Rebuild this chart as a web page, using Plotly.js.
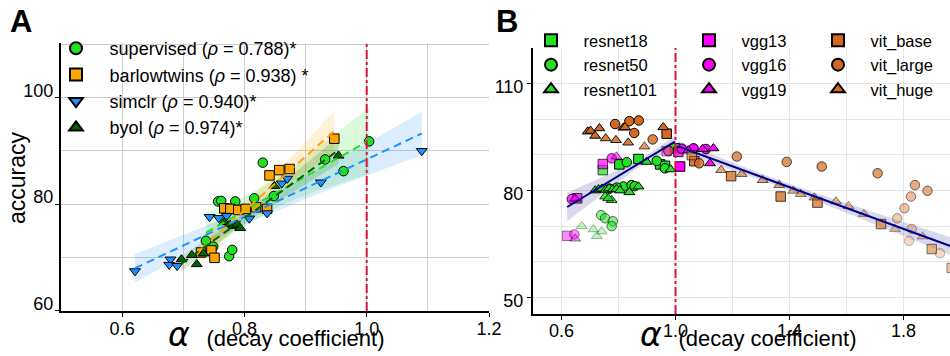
<!DOCTYPE html>
<html><head><meta charset="utf-8">
<script src="https://cdn.plot.ly/plotly-3.0.1.min.js"></script>
<style>html,body{margin:0;padding:0;background:#fff}#chart{width:950px;height:356px}</style>
</head><body><div id="chart"></div>
<script>
// ===================== Panel A data =====================
const aNames = ['supervised', 'barlowtwins', 'simclr', 'byol'];
const aRho = ['0.788', '0.938', '0.940', '0.974'];
const aStar = [')*', ') *', ')*', ')*'];

const supervisedAlpha = [0.737, 0.749, 0.775, 0.780, 0.757, 0.762, 0.785, 0.816, 0.848, 0.830, 0.932, 0.962, 1.004];
const supervisedAcc   = [73.1, 72.0, 70.2, 71.4, 80.5, 80.6, 80.5, 81.1, 81.5, 87.8, 88.4, 86.2, 91.8];

const barlowAlpha = [0.729, 0.746, 0.751, 0.767, 0.777, 0.790, 0.802, 0.819, 0.837, 0.841, 0.857, 0.874, 0.947];
const barlowAcc   = [70.9, 71.3, 69.9, 79.2, 79.1, 78.9, 79.1, 79.4, 79.1, 85.4, 86.4, 86.6, 92.3];

const simclrAlpha = [0.621, 0.679, 0.677, 0.690, 0.743, 0.758, 0.771, 0.808, 0.837, 0.861, 0.870, 0.925, 1.090];
const simclrAcc   = [67.4, 69.6, 68.6, 68.4, 77.6, 77.4, 77.8, 77.3, 78.3, 83.9, 84.8, 84.1, 90.0];

const byolAlpha = [0.697, 0.714, 0.722, 0.733, 0.767, 0.776, 0.782, 0.788, 0.793, 0.849, 0.954];
const byolAcc   = [69.6, 70.4, 68.7, 70.7, 76.6, 76.2, 75.9, 76.1, 75.5, 83.4, 89.1];

const criticalAlpha = [1.0];

// ===================== Panel B data =====================
const bNames = ['resnet18', 'resnet50', 'resnet101', 'vgg13', 'vgg16', 'vgg19', 'vit_base', 'vit_large', 'vit_huge'];

const resnet18Alpha = [0.803, 0.745, 0.870, 0.946, 0.963, 0.998];
const resnet18Acc   = [87.3, 85.7, 88.8, 87.3, 86.9, 91.8];
const resnet18Fade  = [1, 0.7, 1, 1, 1, 1];

const resnet50Alpha = [0.829, 0.934, 0.963, 0.817, 0.846, 0.794, 0.857, 0.768, 0.739, 0.753, 0.780, 0.776];
const resnet50Acc   = [87.9, 88.3, 86.2, 81.1, 81.5, 80.8, 81.2, 80.5, 73.1, 72.2, 71.4, 70.0];
const resnet50Fade  = [1, 1, 1, 1, 1, 1, 1, 1, 0.55, 0.55, 0.55, 0.55];

const resnet101Alpha = [0.899, 0.983, 0.870, 0.718, 0.730, 0.742, 0.755, 0.767, 0.780, 0.793, 0.805, 0.838, 0.753, 0.776, 0.764, 0.671, 0.712, 0.741, 0.724];
const resnet101Acc   = [88.0, 85.9, 81.1, 80.0, 80.3, 80.5, 80.2, 80.6, 80.3, 80.4, 80.0, 79.5, 78.3, 77.3, 77.8, 70.0, 69.1, 68.5, 67.2];
const resnet101Fade  = [1, 1, 1, 1, 1, 1, 1, 1, 1, 1, 1, 1, 0.8, 0.8, 0.8, 0.3, 0.3, 0.3, 0.3];

const vgg13Alpha = [1.016, 0.745, 0.655, 0.620, 0.969, 1.010];
const vgg13Acc   = [86.7, 87.4, 77.8, 67.3, 91.0, 90.8];
const vgg13Fade  = [1, 0.7, 0.75, 0.45, 0.45, 0.8];

const vgg16Alpha = [1.063, 1.022, 1.107, 0.776, 0.636, 0.645, 0.975];
const vgg16Acc   = [91.8, 91.7, 91.6, 89.0, 77.6, 67.7, 91.0];
const vgg16Fade  = [1, 1, 1, 0.7, 0.75, 0.45, 0.45];

const vgg19Alpha = [1.095, 1.133, 1.121, 1.045, 0.793, 0.648, 0.648];
const vgg19Acc   = [91.6, 91.8, 87.6, 91.2, 89.5, 77.7, 66.5];
const vgg19Fade  = [1, 1, 1, 1, 0.55, 0.75, 0.45];

const vitBaseAlpha = [0.969, 1.066, 1.057, 1.195, 1.369, 1.498, 1.721, 1.899, 1.969];
const vitBaseAcc   = [95.9, 88.2, 89.9, 84.0, 78.3, 76.6, 70.6, 63.6, 58.3];
const vitBaseFade  = [1, 0.85, 0.6, 0.75, 0.75, 0.7, 0.6, 0.5, 0.4];

const vitLargeAlpha = [0.788, 0.838, 0.871, 0.855, 0.920, 0.975, 1.083, 1.215, 1.390, 1.513, 1.709, 1.840, 1.884, 1.826, 1.803, 1.778, 1.829, 1.819, 1.928];
const vitLargeAcc   = [98.6, 99.4, 99.6, 96.1, 94.3, 91.2, 87.6, 89.5, 88.0, 86.7, 84.8, 81.5, 79.9, 78.3, 75.0, 72.2, 69.2, 65.9, 62.4];
const vitLargeFade  = [1, 1, 1, 1, 0.8, 0.5, 0.8, 0.7, 0.7, 0.7, 0.65, 0.55, 0.55, 0.45, 0.4, 0.35, 0.3, 0.25, 0.25];

const vitHugeAlpha = [0.692, 0.702, 0.733, 0.718, 0.755, 0.791, 0.817, 0.823, 0.834, 0.891, 0.957, 1.160, 1.232, 1.306, 1.364, 1.413, 1.439, 1.487, 1.563, 1.607, 1.661, 1.770, 1.867];
const vitHugeAcc   = [96.5, 96.7, 97.4, 95.3, 94.6, 94.1, 97.6, 97.7, 93.4, 92.3, 97.7, 85.7, 84.6, 82.9, 81.5, 79.9, 79.0, 78.0, 76.9, 75.6, 73.4, 69.2, 67.1];
const vitHugeFade  = [1, 1, 1, 1, 0.85, 0.85, 1, 1, 0.85, 0.65, 1, 0.6, 0.6, 0.6, 0.55, 0.5, 0.5, 0.5, 0.45, 0.45, 0.4, 0.35, 0.35];

// piecewise fit: [slope, intercept, band min half-width, band growth, band centre]
const fitBelowOne = [48.5, 45.3, 1.0, 13.8, 0.90];
const fitAboveOne = [-29.2, 121.8, 0.9, 3.8, 1.35];

// ===================== styling =====================
const FONT = 'Liberation Sans, Arial, Helvetica, sans-serif';
const W = 950, H = 356;
const px = v => v / W, py = v => 1 - v / H;

function rgba(hex, a) {
  const n = parseInt(hex.slice(1), 16);
  return `rgba(${(n >> 16) & 255},${(n >> 8) & 255},${n & 255},${a})`;
}
function linspace(a, b, n) { const r = []; for (let i = 0; i < n; i++) r.push(a + (b - a) * i / (n - 1)); return r; }

function ols(xs, ys) {
  const n = xs.length;
  const xm = xs.reduce((s, v) => s + v, 0) / n, ym = ys.reduce((s, v) => s + v, 0) / n;
  let sxx = 0, sxy = 0;
  for (let i = 0; i < n; i++) { sxx += (xs[i] - xm) ** 2; sxy += (xs[i] - xm) * (ys[i] - ym); }
  const b = sxy / sxx, a = ym - b * xm;
  let sse = 0; for (let i = 0; i < n; i++) sse += (ys[i] - a - b * xs[i]) ** 2;
  const s = Math.sqrt(sse / (n - 2));
  return { a, b, xm, sxx, s, n };
}

const traces = [];
const aSeries = [
  { x: supervisedAlpha, y: supervisedAcc, color: '#22e022', symbol: 'circle' },
  { x: barlowAlpha, y: barlowAcc, color: '#ffa500', symbol: 'square' },
  { x: simclrAlpha, y: simclrAcc, color: '#1e90ff', symbol: 'triangle-down' },
  { x: byolAlpha, y: byolAcc, color: '#006400', symbol: 'triangle-up' },
];
const aFits = aSeries.map(s => {
  const f = ols(s.x, s.y);
  const xs = linspace(Math.min(...s.x), Math.max(...s.x), 60);
  const t = 2.2;
  const yh = xs.map(x => f.a + f.b * x);
  const half = xs.map(x => t * f.s * Math.sqrt(1 / f.n + (x - f.xm) ** 2 / f.sxx));
  return { xs, yh, up: yh.map((v, i) => v + half[i]), lo: yh.map((v, i) => v - half[i]) };
});
aSeries.forEach((s, i) => {
  const f = aFits[i];
  traces.push({ x: f.xs.concat(f.xs.slice().reverse()), y: f.up.concat(f.lo.slice().reverse()),
    type: 'scatter', mode: 'lines', fill: 'toself', fillcolor: rgba(s.color, 0.16),
    line: { width: 0 }, hoverinfo: 'skip', showlegend: false, xaxis: 'x', yaxis: 'y' });
});
aSeries.forEach((s, i) => {
  traces.push({ x: s.x, y: s.y, type: 'scatter', mode: 'markers',
    name: '\u00a0\u00a0\u2009' + aNames[i] + ' (<i>ρ</i> = ' + aRho[i] + aStar[i],
    marker: { color: s.color, symbol: s.symbol, size: 9.5, line: { color: '#000', width: 1 } },
    xaxis: 'x', yaxis: 'y', legend: 'legend' });
});
aSeries.forEach((s, i) => {
  const f = aFits[i];
  traces.push({ x: f.xs, y: f.yh, type: 'scatter', mode: 'lines', line: { color: s.color, width: 2, dash: '8px,5px' },
    hoverinfo: 'skip', showlegend: false, xaxis: 'x', yaxis: 'y' });
});

// ===== Panel B =====
const GREEN = '#22e022', MAG = '#ff00ff', VIT = '#d2691e';
const bSeries = [
  { x: resnet18Alpha, y: resnet18Acc, f: resnet18Fade, c: GREEN, s: 'square', lg: 'legend2' },
  { x: resnet50Alpha, y: resnet50Acc, f: resnet50Fade, c: GREEN, s: 'circle', lg: 'legend2' },
  { x: resnet101Alpha, y: resnet101Acc, f: resnet101Fade, c: GREEN, s: 'triangle-up', lg: 'legend2' },
  { x: vgg13Alpha, y: vgg13Acc, f: vgg13Fade, c: MAG, s: 'square', lg: 'legend3' },
  { x: vgg16Alpha, y: vgg16Acc, f: vgg16Fade, c: MAG, s: 'circle', lg: 'legend3' },
  { x: vgg19Alpha, y: vgg19Acc, f: vgg19Fade, c: MAG, s: 'triangle-up', lg: 'legend3' },
  { x: vitBaseAlpha, y: vitBaseAcc, f: vitBaseFade, c: VIT, s: 'square', lg: 'legend4' },
  { x: vitLargeAlpha, y: vitLargeAcc, f: vitLargeFade, c: VIT, s: 'circle', lg: 'legend4' },
  { x: vitHugeAlpha, y: vitHugeAcc, f: vitHugeFade, c: VIT, s: 'triangle-up', lg: 'legend4' },
];
const allB = bSeries.flatMap(s => s.x);
const leftX = allB.filter(v => v < criticalAlpha[0]);
const rightX = allB.filter(v => v > criticalAlpha[0]);
const segs = [
  { p: fitBelowOne, xs: linspace(Math.min(...leftX), Math.max(...leftX), 60) },
  { p: fitAboveOne, xs: linspace(Math.min(...rightX), Math.max(...rightX), 60) },
];
segs.forEach(sg => {
  const [m, b, h0, k, xc] = sg.p;
  sg.yh = sg.xs.map(x => b + m * x);
  const half = sg.xs.map(x => Math.sqrt(h0 * h0 + (k * (x - xc)) ** 2));
  sg.up = sg.yh.map((v, i) => v + half[i]);
  sg.lo = sg.yh.map((v, i) => v - half[i]);
  traces.push({ x: sg.xs.concat(sg.xs.slice().reverse()), y: sg.up.concat(sg.lo.slice().reverse()),
    type: 'scatter', mode: 'lines', fill: 'toself', fillcolor: 'rgba(0,0,128,0.15)', line: { width: 0 },
    hoverinfo: 'skip', showlegend: false, xaxis: 'x2', yaxis: 'y2' });
});
bSeries.forEach((s, i) => {
  traces.push({ x: s.x, y: s.y, type: 'scatter', mode: 'markers',
    name: '\u00a0\u00a0\u2009' + bNames[i],
    marker: { color: s.f.map(a => rgba(s.c, a)), symbol: s.s, size: 9.5,
      line: { color: s.f.map(a => `rgba(0,0,0,${a})`), width: 1 } },
    xaxis: 'x2', yaxis: 'y2', legend: s.lg });
});
segs.forEach(sg => {
  traces.push({ x: sg.xs, y: sg.yh, type: 'scatter', mode: 'lines', line: { color: '#00008b', width: 2 },
    hoverinfo: 'skip', showlegend: false, xaxis: 'x2', yaxis: 'y2' });
});

const legendBase = { xanchor: 'left', yanchor: 'top', bgcolor: 'rgba(0,0,0,0)', itemsizing: 'constant',
  borderwidth: 0, font: { family: FONT, size: 16.5, color: '#000' } };

const axisCommon = { showline: true, linecolor: '#000', linewidth: 2, zeroline: false, ticks: 'outside', ticklen: 4,
  tickcolor: '#000', tickfont: { family: FONT, size: 18, color: '#000' } };

const xTitle = '<span style="font-family:DejaVu Sans;font-size:33px"><i>α</i></span>\u00a0\u00a0\u2009(decay coefficient)';

const layout = {
  width: W, height: H, margin: { l: 0, r: 0, t: 0, b: 0 },
  paper_bgcolor: '#fff', plot_bgcolor: '#fff', font: { family: FONT, color: '#000' },
  showlegend: true,
  xaxis: Object.assign({}, axisCommon, { domain: [px(61), px(489)], range: [0.5, 1.2], anchor: 'y',
    tick0: 0, dtick: 0.2, tickformat: '.1f', showgrid: true, gridcolor: '#cccccc', gridwidth: 1,
    ticklabelstandoff: -4,
    minor: { dtick: 0.1, tick0: 0, showgrid: true, gridcolor: '#cccccc', gridwidth: 1, ticks: '' } }),
  yaxis: Object.assign({}, axisCommon, { domain: [py(311), py(43)], range: [59.9, 110.3], anchor: 'x',
    tick0: 0, dtick: 20, showgrid: true, gridcolor: '#cccccc', ticklabelshift: -7, ticklabelstandoff: -2,
    minor: { dtick: 10, tick0: 0, showgrid: true, gridcolor: '#cccccc', ticks: '' } }),
  xaxis2: Object.assign({}, axisCommon, { domain: [px(533), 1], range: [0.5, 1.963], anchor: 'y2',
    tick0: 0.6, dtick: 0.4, tickformat: '.1f', showgrid: true, gridcolor: '#e5e5e5', ticklabelstandoff: -5,
    minor: { dtick: 0.2, tick0: 0.6, showgrid: true, gridcolor: '#e5e5e5', ticks: '' } }),
  yaxis2: Object.assign({}, axisCommon, { domain: [py(314), py(48)], range: [45.4, 119.9], anchor: 'x2',
    tick0: 50, dtick: 30, showgrid: true, gridcolor: '#e5e5e5', ticklabelshift: 3,
    minor: { dtick: 10, tick0: 50, showgrid: true, gridcolor: '#e5e5e5', ticks: '' } }),
  legend: Object.assign({}, legendBase, { x: px(56), y: py(30), font: { family: FONT, size: 18, color: '#000' } }),
  legend2: Object.assign({}, legendBase, { x: px(531), y: py(23) }),
  legend3: Object.assign({}, legendBase, { x: px(689), y: py(23) }),
  legend4: Object.assign({}, legendBase, { x: px(818), y: py(23) }),
  shapes: [
    { type: 'line', xref: 'x', yref: 'y domain', x0: criticalAlpha[0], x1: criticalAlpha[0], y0: 0, y1: 1,
      line: { color: '#dc143c', width: 2, dash: 'dashdot' } },
    { type: 'line', xref: 'x2', yref: 'y2 domain', x0: criticalAlpha[0], x1: criticalAlpha[0], y0: 0, y1: 1,
      line: { color: '#dc143c', width: 2, dash: 'dashdot' } },
  ],
  annotations: [
    { text: '<b>A</b>', xref: 'paper', yref: 'paper', x: px(8), y: py(2), xanchor: 'left', yanchor: 'top',
      showarrow: false, font: { family: FONT, size: 31, color: '#000' } },
    { text: '<b>B</b>', xref: 'paper', yref: 'paper', x: px(494), y: py(2), xanchor: 'left', yanchor: 'top',
      showarrow: false, font: { family: FONT, size: 31, color: '#000' } },
    { text: 'accuracy', xref: 'paper', yref: 'paper', x: px(17), y: py(178), xanchor: 'center', yanchor: 'middle',
      textangle: -90, showarrow: false, font: { family: FONT, size: 23, color: '#000' } },
    { text: xTitle, xref: 'paper', yref: 'paper', x: px(276), y: 0, xanchor: 'center', yanchor: 'bottom',
      showarrow: false, font: { family: FONT, size: 22, color: '#000' } },
    { text: xTitle, xref: 'paper', yref: 'paper', x: px(748), y: 0, xanchor: 'center', yanchor: 'bottom',
      showarrow: false, font: { family: FONT, size: 22, color: '#000' } },
  ],
};

Plotly.newPlot('chart', traces, layout, { staticPlot: true, displayModeBar: false });
</script></body></html>
